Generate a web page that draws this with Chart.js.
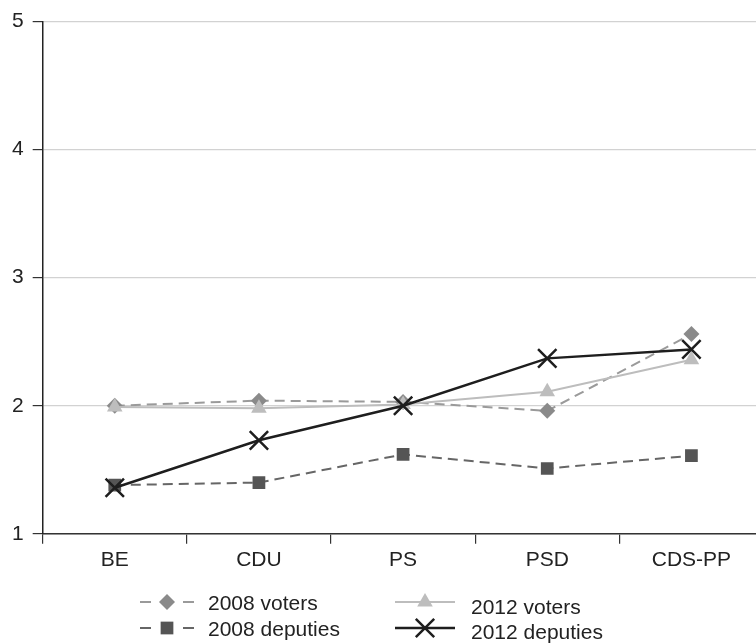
<!DOCTYPE html>
<html>
<head>
<meta charset="utf-8">
<script src="https://cdn.jsdelivr.net/npm/chart.js@4/dist/chart.umd.min.js"></script>
<style>
  html, body { margin: 0; padding: 0; background: #fff; overflow: hidden; }
  #wrap { width: 756px; height: 643px; overflow: hidden; }
  canvas { display: block; }
</style>
</head>
<body>
<div id="wrap"><canvas id="c" width="779" height="643"></canvas></div>
<script>
// Parties on the horizontal axis
const parties = ['BE', 'CDU', 'PS', 'PSD', 'CDS-PP'];

// Mean positions per party
const voters2008   = [2.00, 2.04, 2.03, 1.96, 2.56];
const deputies2008 = [1.38, 1.40, 1.62, 1.51, 1.61];
const voters2012   = [1.99, 1.98, 2.01, 2.11, 2.36];
const deputies2012 = [1.36, 1.73, 2.00, 2.37, 2.44];

// Y-axis ticks
const yTicks = [1, 2, 3, 4, 5];

const FONT = "'Liberation Sans', Arial, Helvetica, sans-serif";
const FONT_SIZE = 21;

const seriesStyles = [
  { label: '2008 voters',   data: voters2008,   color: '#9a9a9a', fill: '#8a8a8a', dash: [10, 6], point: 'rectRot', radius: 8,  width: 2 },
  { label: '2008 deputies', data: deputies2008, color: '#666666', fill: '#555555', dash: [10, 6], point: 'rect',    radius: 9,  width: 2 },
  { label: '2012 voters',   data: voters2012,   color: '#bdbdbd', fill: '#bdbdbd', dash: [],      point: 'triangle', radius: 9, width: 2 },
  { label: '2012 deputies', data: deputies2012, color: '#1e1e1e', fill: '#1e1e1e', dash: [],      point: 'crossRot', radius: 13, width: 2.5 }
];

const datasets = seriesStyles.map((s, i) => ({
  label: s.label,
  data: s.data,
  borderColor: s.color,
  borderWidth: s.width,
  borderDash: s.dash,
  backgroundColor: s.fill,
  pointStyle: s.point,
  pointRadius: s.radius,
  pointHoverRadius: s.radius,
  pointBackgroundColor: s.fill,
  pointBorderColor: s.point === 'crossRot' ? s.fill : 'rgba(0,0,0,0)',
  pointBorderWidth: s.point === 'crossRot' ? 2.5 : 0,
  tension: 0,
  fill: false,
  order: 4 - i
}));

// Marker helper used by the legend
function marker(ctx, style, r, x, y, fill, lw) {
  ctx.save();
  ctx.fillStyle = fill;
  ctx.strokeStyle = fill;
  ctx.lineWidth = lw;
  ctx.setLineDash([]);
  ctx.beginPath();
  if (style === 'rectRot') {
    ctx.moveTo(x, y - r); ctx.lineTo(x + r, y); ctx.lineTo(x, y + r); ctx.lineTo(x - r, y); ctx.closePath(); ctx.fill();
  } else if (style === 'rect') {
    const h = r * Math.SQRT1_2;
    ctx.rect(x - h, y - h, 2 * h, 2 * h); ctx.fill();
  } else if (style === 'triangle') {
    ctx.moveTo(x, y - r);
    ctx.lineTo(x + r * Math.sin(Math.PI / 3), y + r / 2);
    ctx.lineTo(x - r * Math.sin(Math.PI / 3), y + r / 2);
    ctx.closePath(); ctx.fill();
  } else if (style === 'crossRot') {
    const h = r * Math.SQRT1_2;
    ctx.moveTo(x - h, y - h); ctx.lineTo(x + h, y + h);
    ctx.moveTo(x + h, y - h); ctx.lineTo(x - h, y + h);
    ctx.stroke();
  }
  ctx.restore();
}

// Two-column legend under the plot
const legendPlugin = {
  id: 'twoColumnLegend',
  afterDraw(chart) {
    const ctx = chart.ctx;
    const items = [
      { s: seriesStyles[0], x0: 140, x1: 194, mx: 167, ly: 602, tx: 208, ty: 604, r: 8 },
      { s: seriesStyles[1], x0: 140, x1: 194, mx: 167, ly: 628, tx: 208, ty: 630, r: 9 },
      { s: seriesStyles[2], x0: 395, x1: 455, mx: 425, ly: 602, tx: 471, ty: 608, r: 9 },
      { s: seriesStyles[3], x0: 395, x1: 455, mx: 425, ly: 628, tx: 471, ty: 633, r: 13 }
    ];
    items.forEach(it => {
      ctx.save();
      ctx.strokeStyle = it.s.color;
      ctx.lineWidth = it.s.width;
      ctx.beginPath();
      if (it.s.dash.length) {
        ctx.moveTo(it.x0, it.ly); ctx.lineTo(it.x0 + 11, it.ly);
        ctx.moveTo(it.x1 - 11, it.ly); ctx.lineTo(it.x1, it.ly);
      } else {
        ctx.moveTo(it.x0, it.ly); ctx.lineTo(it.x1, it.ly);
      }
      ctx.stroke();
      ctx.restore();
      marker(ctx, it.s.point, it.r, it.mx, it.ly, it.s.fill, 2.5);
      ctx.save();
      ctx.fillStyle = '#222';
      ctx.font = FONT_SIZE + 'px ' + FONT;
      ctx.textBaseline = 'middle';
      ctx.textAlign = 'left';
      ctx.fillText(it.s.label, it.tx, it.ty);
      ctx.restore();
    });
  }
};

new Chart(document.getElementById('c'), {
  type: 'line',
  data: { labels: parties, datasets },
  plugins: [legendPlugin],
  options: {
    responsive: false,
    animation: false,
    events: [],
    layout: { padding: { left: 3, right: 6, top: 20, bottom: 66 } },
    plugins: { legend: { display: false }, tooltip: { enabled: false } },
    scales: {
      x: {
        offset: true,
        grid: { offset: true, drawOnChartArea: false, drawTicks: true, tickLength: 10, tickColor: '#333', lineWidth: 1.2 },
        border: { color: '#333', width: 1.5 },
        ticks: { color: '#222', font: { family: FONT, size: FONT_SIZE }, padding: 4, maxRotation: 0 }
      },
      y: {
        min: 1,
        max: 5,
        afterBuildTicks(axis) { axis.ticks = yTicks.map(v => ({ value: v })); },
        grid: { color: '#d2d2d2', lineWidth: 1.2, tickLength: 10, tickColor: '#333', drawTicks: true },
        border: { color: '#222', width: 1.5 },
        ticks: { color: '#222', font: { family: FONT, size: FONT_SIZE }, padding: 9 }
      }
    }
  }
});
</script>
</body>
</html>
